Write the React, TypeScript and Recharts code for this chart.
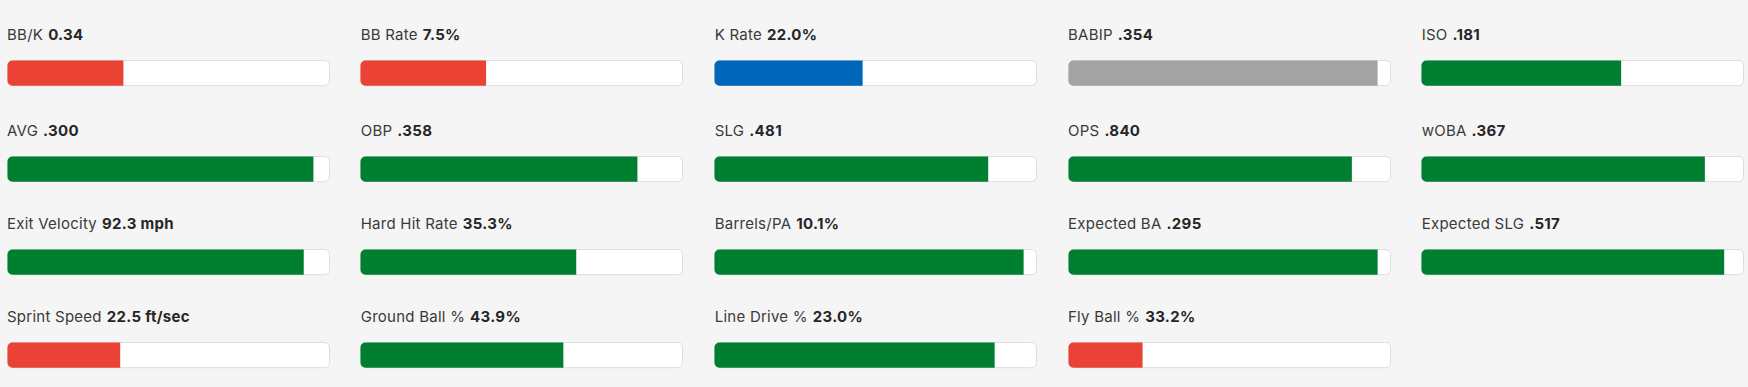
import React from 'react';
import { BarChart, Bar, XAxis, YAxis } from 'recharts';

const metricLabels = [
  'BB/K', 'BB Rate', 'K Rate', 'BABIP', 'ISO',
  'AVG', 'OBP', 'SLG', 'OPS', 'wOBA',
  'Exit Velocity', 'Hard Hit Rate', 'Barrels/PA', 'Expected BA', 'Expected SLG',
  'Sprint Speed', 'Ground Ball %', 'Line Drive %', 'Fly Ball %'
];

const metricValues = [
  '0.34', '7.5%', '22.0%', '.354', '.181',
  '.300', '.358', '.481', '.840', '.367',
  '92.3 mph', '35.3%', '10.1%', '.295', '.517',
  '22.5 ft/sec', '43.9%', '23.0%', '33.2%'
];

// percentile rank, 0-100
const percentiles = [
  36, 39, 46, 96, 62,
  95, 86, 85, 88, 88,
  92, 67, 96, 96, 94,
  35, 63, 87, 23
];

const tiers = [
  'low', 'low', 'mid', 'neutral', 'high',
  'high', 'high', 'high', 'high', 'high',
  'high', 'high', 'high', 'high', 'high',
  'low', 'high', 'high', 'low'
];

const tierColors: Record<string, string> = {
  low: '#ea4234',
  mid: '#0066bb',
  neutral: '#a3a3a3',
  high: '#007f31'
};

const COLS = 5;
const colLefts = [7, 360.7, 714.7, 1068, 1421.7];
const rowTops = [59.3, 155.3, 248.3, 341.3];
const BAR_W = 322;
const BAR_H = 28;

function MetricBar({ index }: { index: number }) {
  const data = [{ name: metricLabels[index], pct: percentiles[index] }];
  const col = index % COLS;
  const row = Math.floor(index / COLS);
  const color = tierColors[tiers[index]];

  return (
    <div
      style={{
        position: 'absolute',
        left: colLefts[col] - 0.5,
        top: rowTops[row] - 34,
        width: BAR_W + 1
      }}
    >
      <div
        style={{
          height: 33.5,
          lineHeight: '18px',
          fontSize: 15,
          paddingLeft: 0.5,
          paddingTop: 1,
          boxSizing: 'border-box',
          color: '#3a3a3a',
          letterSpacing: 0.25,
          whiteSpace: 'nowrap'
        }}
      >
        {metricLabels[index]}
        <span style={{ fontWeight: 700, color: '#262626', marginLeft: 5, letterSpacing: 0.3 }}>
          {metricValues[index]}
        </span>
      </div>
      <BarChart
        width={BAR_W + 1}
        height={BAR_H + 1}
        data={data}
        layout="vertical"
        margin={{ top: 0.5, right: 0.5, bottom: 0.5, left: 0.5 }}
        barCategoryGap={0}
      >
        <XAxis type="number" domain={[0, 100]} hide />
        <YAxis type="category" dataKey="name" hide />
        <Bar
          dataKey="pct"
          fill={color}
          barSize={BAR_H}
          radius={[5, 0, 0, 5]}
          background={{ fill: '#ffffff', stroke: '#dddddd', strokeWidth: 1, radius: 5 }}
          isAnimationActive={false}
        />
      </BarChart>
    </div>
  );
}

export default function App() {
  return (
    <div
      style={{
        position: 'fixed',
        left: 0,
        top: 0,
        width: 1748,
        height: 387,
        background: '#f5f5f5',
        fontFamily: 'Inter, "Noto Sans", sans-serif',
        overflow: 'hidden'
      }}
    >
      {metricLabels.map((_, i) => (
        <MetricBar key={metricLabels[i]} index={i} />
      ))}
    </div>
  );
}
